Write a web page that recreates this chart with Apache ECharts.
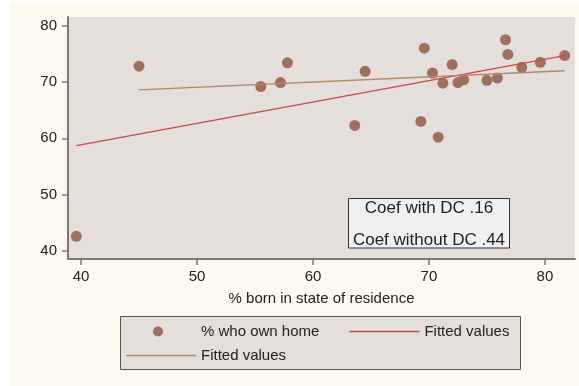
<!DOCTYPE html>
<html>
<head>
<meta charset="utf-8">
<script src="https://cdn.jsdelivr.net/npm/echarts@6/dist/echarts.min.js"></script>
<style>html,body{margin:0;padding:0;background:#fff}#c{width:579px;height:386px}</style>
</head>
<body>
<div id="c"></div>
<script>
// % born in state of residence
const bornInState = [39.6, 45.0, 55.5, 57.2, 57.8, 63.6, 64.5, 69.3, 69.6, 70.3, 70.8, 71.2, 72.0, 72.5, 73.0, 75.0, 75.9, 76.6, 76.8, 78.0, 79.6, 81.7];
// % who own home
const ownHome = [42.6, 72.8, 69.2, 69.9, 73.4, 62.3, 71.9, 63.0, 76.0, 71.6, 60.2, 69.8, 73.1, 69.9, 70.4, 70.3, 70.7, 77.5, 74.9, 72.6, 73.5, 74.7];
// fitted lines (endpoints)
const fitAllX = [39.6, 81.7];
const fitAllY = [58.7, 74.7];
const fitNoDCX = [45.0, 81.7];
const fitNoDCY = [68.6, 72.0];
const xTicks = [40, 50, 60, 70, 80];
const yTicks = [40, 50, 60, 70, 80];
const boxLines = ['Coef with DC .16', 'Coef without DC .44'];

const FONT = '"Liberation Sans", Arial, sans-serif';
const chart = echarts.init(document.getElementById('c'));
const pts = bornInState.map((x, i) => [x, ownHome[i]]);
const fitA = fitAllX.map((x, i) => [x, fitAllY[i]]);
const fitB = fitNoDCX.map((x, i) => [x, fitNoDCY[i]]);

const ICON_DOT = 'path://M0,5L0.05,5.05L0,5.1Z M27,5A5,5 0 1,1 37,5A5,5 0 1,1 27,5Z M70,5L69.95,5.05L70,5.1Z M0,0L0.05,0.05L0,0.1Z M0,10L0.05,9.95L0,9.9Z';
const ICON_LINE = 'path://M0,0L0.05,0.05L0,0.1Z M0,4.35L70,4.35L70,5.65L0,5.65Z M0,10L0.05,9.95L0,9.9Z';

const axisCommon = {
  type: 'value',
  splitLine: {show: false},
  axisLine: {show: true, onZero: false, lineStyle: {color: '#7d7671', width: 2}},
  axisTick: {show: true, length: 6, lineStyle: {color: '#7d7671', width: 1.5}},
};

chart.setOption({
  backgroundColor: '#fdf9ef',
  animation: false,
  textStyle: {fontFamily: FONT},
  grid: {left: 68, top: 17, right: 4, bottom: 127, show: true, backgroundColor: '#e5dfdb', borderWidth: 0},
  xAxis: Object.assign({}, axisCommon, {
    min: 38.88, max: 82.59,
    axisTick: Object.assign({}, axisCommon.axisTick, {customValues: xTicks}),
    axisLabel: {customValues: xTicks, color: '#222', fontSize: 15, margin: 10, fontFamily: FONT},
    name: '% born in state of residence', nameLocation: 'middle', nameGap: 32,
    nameTextStyle: {color: '#222', fontSize: 15, fontFamily: FONT}
  }),
  yAxis: Object.assign({}, axisCommon, {
    min: 38.58, max: 81.54,
    axisTick: Object.assign({}, axisCommon.axisTick, {customValues: yTicks}),
    axisLabel: {customValues: yTicks, color: '#222', fontSize: 15, margin: 11, fontFamily: FONT}
  }),
  legend: [{
    left: 126, top: 324, padding: 0, itemGap: 30, itemWidth: 70, itemHeight: 10,
    textStyle: {color: '#222', fontSize: 15, fontFamily: FONT},
    data: [{name: '% who own home', icon: ICON_DOT}, {name: 'Fitted values', icon: ICON_LINE}]
  }, {
    left: 126, top: 348, padding: 0, itemWidth: 70, itemHeight: 10,
    textStyle: {color: '#222', fontSize: 15, fontFamily: FONT},
    formatter: n => n.trim(),
    data: [{name: 'Fitted values ', icon: ICON_LINE}]
  }],
  graphic: [
    {type: 'rect', shape: {x: 0, y: 0, width: 579, height: 3}, style: {fill: '#fff'}, silent: true},
    {type: 'rect', shape: {x: 0, y: 0, width: 10, height: 386}, style: {fill: '#fff'}, silent: true},
    {type: 'rect', z: -1, shape: {x: 120.5, y: 316.5, width: 400, height: 53}, style: {fill: '#e5dfdb', stroke: '#555', lineWidth: 1}, silent: true},
    {type: 'rect', z: 5, shape: {x: 348.5, y: 198.5, width: 161, height: 49.5}, style: {fill: '#eff0f2', stroke: '#333', lineWidth: 1}, silent: true},
    {type: 'text', z: 6, x: 429, y: 208, style: {text: boxLines[0], fill: '#222', font: '17px ' + FONT, align: 'center', verticalAlign: 'middle'}, silent: true},
    {type: 'text', z: 6, x: 429, y: 240, style: {text: boxLines[1], fill: '#222', font: '17px ' + FONT, align: 'center', verticalAlign: 'middle'}, silent: true}
  ],
  series: [
    {name: '% who own home', type: 'scatter', data: pts, symbolSize: 11, itemStyle: {color: '#a0705f', opacity: 1}},
    {name: 'Fitted values', type: 'line', data: fitA, symbol: 'none', lineStyle: {color: '#c8474b', width: 1.3}, itemStyle: {color: '#c8474b'}},
    {name: 'Fitted values ', type: 'line', data: fitB, symbol: 'none', lineStyle: {color: '#b3886a', width: 1.3}, itemStyle: {color: '#b3886a'}}
  ]
});
</script>
</body>
</html>
